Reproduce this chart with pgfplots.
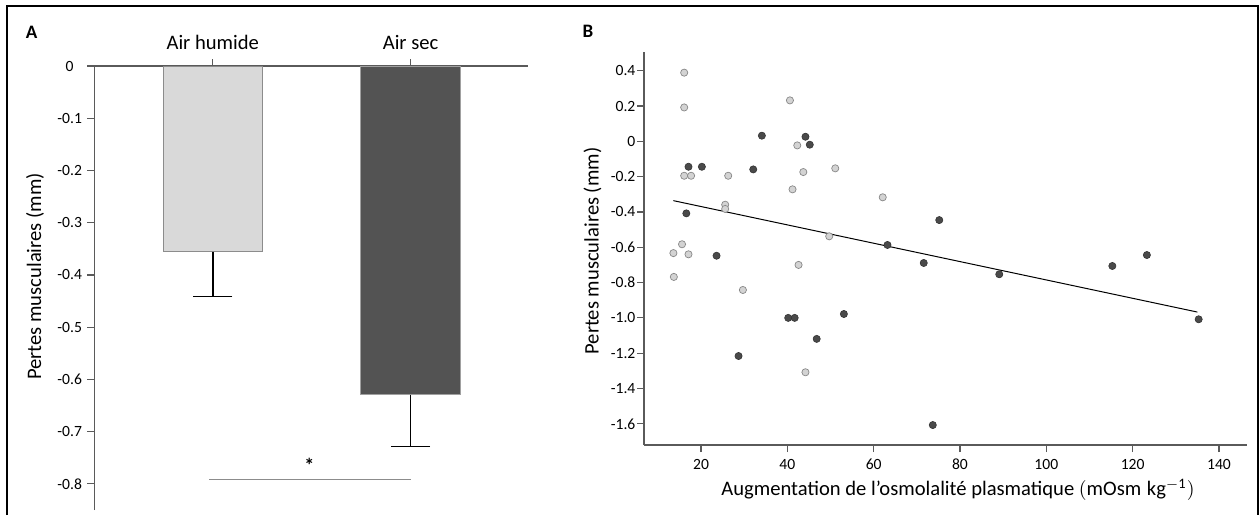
\documentclass[border=0pt]{standalone}
\usepackage{pgfplots}
\pgfplotsset{compat=1.18}
\usepackage{fontspec}
\setmainfont{Carlito}
\definecolor{axisgray}{HTML}{5A5A5A}
\definecolor{lightbar}{HTML}{D9D9D9}
\definecolor{lightedge}{HTML}{8C8C8C}
\definecolor{darkbar}{HTML}{535353}
\definecolor{darkedge}{HTML}{A0A0A0}
\definecolor{lightpt}{HTML}{D3D3D3}
\definecolor{lightptedge}{HTML}{888888}
\definecolor{darkpt}{HTML}{4A4A4A}
\definecolor{darkptedge}{HTML}{333333}
\definecolor{siggray}{HTML}{8C8C8C}
\newcommand{\tickfont}{\fontsize{7.8}{9}\selectfont}
\newcommand{\labfont}{\fontsize{10.3}{12}\selectfont}

\pgfplotstableread{
x y
16.1 0.389
16.1 0.192
16.1 -0.195
17.7 -0.195
26.3 -0.195
25.6 -0.359
25.6 -0.383
15.6 -0.583
13.6 -0.633
17.1 -0.640
13.7 -0.768
29.7 -0.842
40.6 0.232
42.3 -0.023
43.7 -0.174
41.2 -0.272
51.1 -0.153
49.7 -0.538
42.6 -0.700
44.2 -1.308
62.1 -0.317
}\humide

\pgfplotstableread{
x y
17.1 -0.144
20.2 -0.144
16.6 -0.408
34.1 0.032
32.1 -0.159
23.6 -0.648
28.7 -1.216
44.2 0.026
45.2 -0.019
40.2 -1.000
41.7 -1.000
46.8 -1.119
53.1 -0.978
63.2 -0.587
71.6 -0.689
75.2 -0.446
89.1 -0.753
115.3 -0.706
123.3 -0.644
135.3 -1.008
73.7 -1.607
}\sec

\begin{document}
\begin{tikzpicture}
\useasboundingbox (0,0) rectangle (629.5pt,257.5pt);
\draw[line width=1pt] (3.25pt,0) -- (3.25pt,254.5pt) -- (628.85pt,254.5pt) -- (628.85pt,0);
\node[font=\fontsize{9.5}{11}\selectfont\bfseries] at (15.85pt,241.25pt) {A};
\node[font=\fontsize{9.5}{11}\selectfont\bfseries] at (294pt,241.65pt) {B};

% Panel A
\begin{axis}[
  at={(47.15pt,2.5pt)}, anchor=south west,
  scale only axis, width=217pt, height=222pt,
  xmin=0.401, xmax=2.595, ymin=-0.85, ymax=0,
  axis x line=top, axis y line=left,
  axis line style={-, draw=axisgray, line width=0.8pt},
  tick style={draw=axisgray, line width=0.6pt},
  tick align=outside, major tick length=3.5pt,
  xtick={1,2}, xticklabels={Air humide, Air sec},
  xticklabel style={font=\labfont, yshift=1pt},
  ytick={-0.8,-0.7,-0.6,-0.5,-0.4,-0.3,-0.2,-0.1,0},
  yticklabels={-0.8,-0.7,-0.6,-0.5,-0.4,-0.3,-0.2,-0.1,0},
  yticklabel style={font=\tickfont, anchor=center, xshift=-8.8pt},
  ylabel={Pertes musculaires (mm)},
  ylabel style={font=\labfont, at={(axis description cs:-0.1366,0.526)}, anchor=center},
  clip=false,
]
\addplot[ybar, bar shift=0pt, bar width=49.75pt, fill=lightbar, draw=lightedge, line width=0.5pt,
  error bars/.cd, y dir=minus, y explicit,
  error bar style={line width=0.75pt, black},
  error mark options={rotate=90, mark size=9.75pt, line width=0.75pt, black}]
  coordinates {(1,-0.3554) -= (0,0.0861)};
\addplot[ybar, bar shift=0pt, bar width=49.75pt, fill=darkbar, draw=darkedge, line width=0.5pt,
  error bars/.cd, y dir=minus, y explicit,
  error bar style={line width=0.75pt, black},
  error mark options={rotate=90, mark size=9.75pt, line width=0.75pt, black}]
  coordinates {(2,-0.629) -= (0,0.0996)};
\addplot[siggray, line width=0.6pt] coordinates {(0.982,-0.791) (2,-0.791)};
\node[font=\fontsize{10}{11}\selectfont\bfseries] at (axis cs:1.488,-0.764) {*};
\end{axis}

% Panel B
\begin{axis}[
  at={(322pt,35pt)}, anchor=south west,
  scale only axis, width=301.5pt, height=196.5pt,
  xmin=6.79, xmax=146.5, ymin=-1.72, ymax=0.506,
  axis x line=bottom, axis y line=left,
  axis line style={-, draw=axisgray, line width=0.8pt},
  tick style={draw=axisgray, line width=0.6pt},
  tick align=outside, major tick length=3.5pt,
  xtick={20,40,60,80,100,120,140},
  xticklabels={20,40,60,80,100,120,140},
  xticklabel style={font=\tickfont},
  ytick={-1.6,-1.4,-1.2,-1.0,-0.8,-0.6,-0.4,-0.2,0,0.2,0.4},
  yticklabels={-1.6,-1.4,-1.2,-1.0,-0.8,-0.6,-0.4,-0.2,0,0.2,0.4},
  yticklabel style={font=\tickfont, inner sep=0.6pt},
  xlabel={Augmentation de l’osmolalité plasmatique $(\mathrm{mOsm\;kg^{-1}})$},
  xlabel style={font=\labfont, at={(axis description cs:0.5207,-0.1145)}, anchor=center},
  ylabel={Pertes musculaires (mm)},
  ylabel style={font=\labfont, at={(axis description cs:-0.0854,0.4936)}, anchor=center},
]
\addplot[black, line width=0.5pt] coordinates {(13.6,-0.336) (135,-0.967)};
\addplot[only marks, mark=*, mark size=1.8pt, mark options={fill=lightpt, draw=lightptedge, line width=0.35pt}] table[x=x,y=y] {\humide};
\addplot[only marks, mark=*, mark size=1.8pt, mark options={fill=darkpt, draw=darkptedge, line width=0.3pt}] table[x=x,y=y] {\sec};
\end{axis}
\end{tikzpicture}
\end{document}
